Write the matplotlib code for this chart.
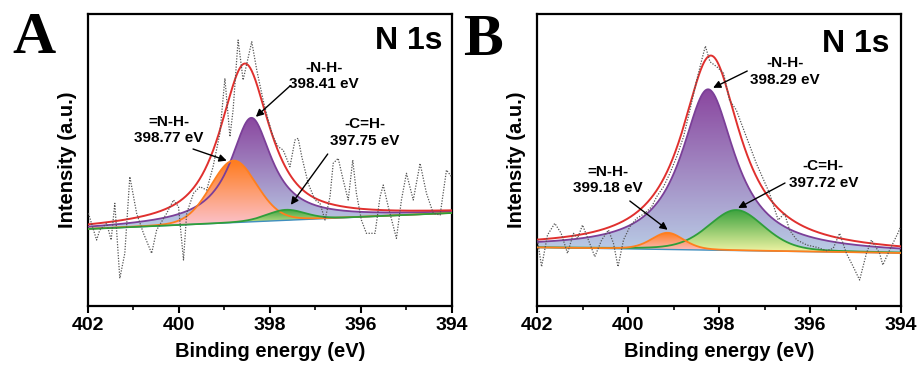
import matplotlib
matplotlib.use("Agg")
import matplotlib.pyplot as plt
import numpy as np
from matplotlib.colors import LinearSegmentedColormap
from matplotlib.patches import Polygon

plt.rcParams['font.family'] = ['Liberation Sans', 'DejaVu Sans']

# raw spectrum A (dotted)
energy_a = [401.99, 401.81, 401.74, 401.59, 401.49, 401.41, 401.30, 401.19, 401.08, 400.93,
            400.78, 400.60, 400.49, 400.27, 400.12, 400.01, 399.90, 399.83, 399.68, 399.54,
            399.39, 399.25, 399.10, 398.99, 398.88, 398.81, 398.70, 398.59, 398.40, 398.29,
            398.15, 398.04, 397.93, 397.82, 397.71, 397.56, 397.45, 397.38, 397.30, 397.16,
            397.01, 396.90, 396.79, 396.68, 396.61, 396.50, 396.39, 396.28, 396.18, 396.10,
            395.99, 395.88, 395.69, 395.58, 395.51, 395.40, 395.22, 395.11, 395.00, 394.85,
            394.70, 394.56, 394.41, 394.26, 394.12, 394.01]
raw_a = [92.7, 66.0, 76.0, 82.7, 66.0, 102.7, 27.7, 52.7, 129.3, 92.7,
         72.7, 52.7, 76.0, 92.7, 106.0, 99.3, 46.0, 92.7, 112.7, 119.3,
         116.0, 139.3, 172.7, 227.7, 169.3, 196.0, 266.0, 226.0, 264.3, 236.0,
         206.0, 186.0, 169.3, 159.3, 156.0, 139.3, 166.0, 167.7, 149.3, 122.7,
         106.0, 102.7, 86.0, 109.3, 142.7, 147.7, 126.0, 106.0, 146.0, 112.7,
         86.0, 72.7, 72.7, 109.3, 121.0, 99.3, 67.7, 106.0, 132.7, 106.0,
         142.7, 112.7, 92.7, 91.0, 136.0, 129.3]

# raw spectrum B (dotted)
energy_b = [401.99, 401.90, 401.77, 401.61, 401.47, 401.33, 401.20, 401.11, 401.00, 400.87,
            400.73, 400.58, 400.43, 400.32, 400.22, 400.10, 399.96, 399.81, 399.63, 399.48,
            399.37, 399.22, 399.08, 398.93, 398.78, 398.64, 398.49, 398.38, 398.30, 398.20,
            398.05, 397.90, 397.77, 397.62, 397.40, 397.18, 396.89, 396.70, 396.56, 396.45,
            396.29, 396.07, 395.85, 395.63, 395.49, 395.35, 395.20, 395.05, 394.91, 394.76,
            394.65, 394.47, 394.40, 394.25, 394.07, 394.01]
raw_b = [66.0, 39.3, 71.0, 82.7, 72.7, 52.7, 72.7, 67.7, 81.0, 66.0,
         49.3, 66.0, 76.0, 62.7, 39.3, 66.0, 79.3, 87.7, 92.7, 99.3,
         109.3, 119.3, 132.7, 149.3, 169.3, 196.0, 226.0, 246.0, 260.0, 244.3,
         239.3, 232.7, 206.0, 196.0, 169.3, 142.7, 112.7, 86.0, 92.7, 76.0,
         66.0, 61.0, 58.7, 55.3, 57.7, 72.7, 52.7, 39.3, 26.0, 52.7,
         66.0, 52.7, 41.0, 56.0, 72.7, 79.3]

# fitted components: -N-H-, =N-H-, -C=H-
labels_a = ['-N-H-\n398.41 eV', '=N-H-\n398.77 eV', '-C=H-\n397.75 eV']
center_a = [398.41, 398.80, 397.65]
height_a = [104.0, 62.0, 10.5]
fwhm_a = [1.10, 1.19, 1.00]
eta_a = [1.0, 0.1, 0.2]
envelope_a = [398.55, 158.6, 1.30, 0.85]
baseline_a = [77.0, 93.0]   # at 402 eV and 394 eV

labels_b = ['-N-H-\n398.29 eV', '=N-H-\n399.18 eV', '-C=H-\n397.72 eV']
center_b = [398.24, 399.13, 397.62]
height_b = [160.8, 16.7, 40.5]
fwhm_b = [1.43, 0.84, 1.45]
eta_b = [1.0, 0.3, 0.3]
envelope_b = [398.18, 194.6, 1.57, 1.0]
baseline_b = [58.5, 53.0]

line_cols = ['#7b3f98', '#ff7f1e', '#2f9e3a']
top_cols = ['#8a469f', '#ff7b1c', '#3ea33f']
bot_cols = ['#b9cde6', '#fbc6d6', '#f4f6a6']


def pvoigt(x, c, h, w, eta):
    u = (x - c) / w
    return h * (eta / (1 + 4 * u ** 2) + (1 - eta) * np.exp(-4 * np.log(2) * u ** 2))


def draw_panel(ax, raw_x, raw_y, centers, heights, fwhms, etas, env, base, labels,
               order, text_pos, tails, tip_off):
    x = np.linspace(394, 402, 801)
    bl = base[1] + (x - 394) / 8 * (base[0] - base[1])
    for i in order:
        y = bl + pvoigt(x, centers[i], heights[i], fwhms[i], etas[i])
        verts = np.column_stack([np.r_[x, x[::-1]], np.r_[y, bl[::-1]]])
        poly = Polygon(verts, closed=True, facecolor='none', edgecolor='none')
        ax.add_patch(poly)
        cmap = LinearSegmentedColormap.from_list('g%d' % i, [bot_cols[i], top_cols[i]])
        grad = np.linspace(0, 1, 256).reshape(-1, 1)
        im = ax.imshow(grad, extent=[394, 402, bl.min(), y.max()], aspect='auto',
                       cmap=cmap, origin='lower', zorder=2)
        im.set_clip_path(poly)
        ax.plot(x, y, color=line_cols[i], lw=1.3, zorder=3)
    ax.plot(x, bl, color='#3f8fbf', lw=1.0, zorder=2.5)
    ye = bl + pvoigt(x, *env)
    ax.plot(x, ye, color='#e0302e', lw=1.4, zorder=4)
    ax.plot(raw_x, raw_y, color='#555555', lw=0.9, ls=(0, (1, 1.2)), zorder=5)

    for i in range(3):
        tb = base[1] + (centers[i] - 394) / 8 * (base[0] - base[1])
        tip = (centers[i] + tip_off[i][0], tb + heights[i] + tip_off[i][1])
        ax.annotate('', xy=tip, xytext=tails[i],
                    arrowprops=dict(arrowstyle='-|>', color='black', lw=1.0,
                                    mutation_scale=11, shrinkA=0, shrinkB=0), zorder=6)
        ax.text(text_pos[i][0], text_pos[i][1], labels[i], ha='center', va='center',
                fontsize=11, fontweight='bold', linespacing=1.25, zorder=6)

    ax.set_xlim(402, 394)
    ax.set_ylim(0, 292)
    ax.set_yticks([])
    ax.set_xticks([402, 400, 398, 396, 394])
    ax.set_xticks([401, 399, 397, 395], minor=True)
    ax.tick_params(axis='x', which='major', direction='out', length=5, width=1.5,
                   labelsize=14, pad=3)
    ax.tick_params(axis='x', which='minor', direction='out', length=3, width=1.2)
    for t in ax.get_xticklabels():
        t.set_fontweight('bold')
    for s in ax.spines.values():
        s.set_linewidth(1.6)
    ax.set_xlabel('Binding energy (eV)', fontsize=14.5, fontweight='bold', labelpad=6)
    ax.set_ylabel('Intensity (a.u.)', fontsize=14.5, fontweight='bold', labelpad=8)


fig = plt.figure(figsize=(9.21, 3.74), dpi=100)
ax1 = fig.add_axes([0.0955, 0.1818, 0.3952, 0.7807])
ax2 = fig.add_axes([0.5831, 0.1818, 0.3952, 0.7807])

draw_panel(ax1, energy_a, raw_a, center_a, height_a, fwhm_a, eta_a, envelope_a, baseline_a,
           labels_a, [0, 1, 2],
           text_pos=[(396.81, 230), (400.22, 176), (395.92, 173.5)],
           tails=[(397.56, 220), (399.69, 157), (396.73, 152)],
           tip_off=[(-0.10, 1), (0.15, 0), (-0.11, 5)])
draw_panel(ax2, energy_b, raw_b, center_b, height_b, fwhm_b, eta_b, envelope_b, baseline_b,
           labels_b, [0, 2, 1],
           text_pos=[(396.55, 234.5), (400.44, 126), (395.71, 131.5)],
           tails=[(397.38, 235), (399.96, 105), (396.55, 123)],
           tip_off=[(-0.11, 1.5), (0.0, 3), (-0.04, 2)])

ax1.text(0.882, 0.906, 'N 1s', transform=ax1.transAxes, ha='center', va='center',
         fontsize=23, fontweight='bold')
ax2.text(0.876, 0.899, 'N 1s', transform=ax2.transAxes, ha='center', va='center',
         fontsize=23, fontweight='bold')
fig.text(0.013, 0.858, 'A', fontsize=43, fontweight='bold', family='Liberation Serif',
         ha='left', va='baseline')
fig.text(0.5027, 0.853, 'B', fontsize=43, fontweight='bold', family='Liberation Serif',
         ha='left', va='baseline')

fig.savefig('out.png', dpi=100)
